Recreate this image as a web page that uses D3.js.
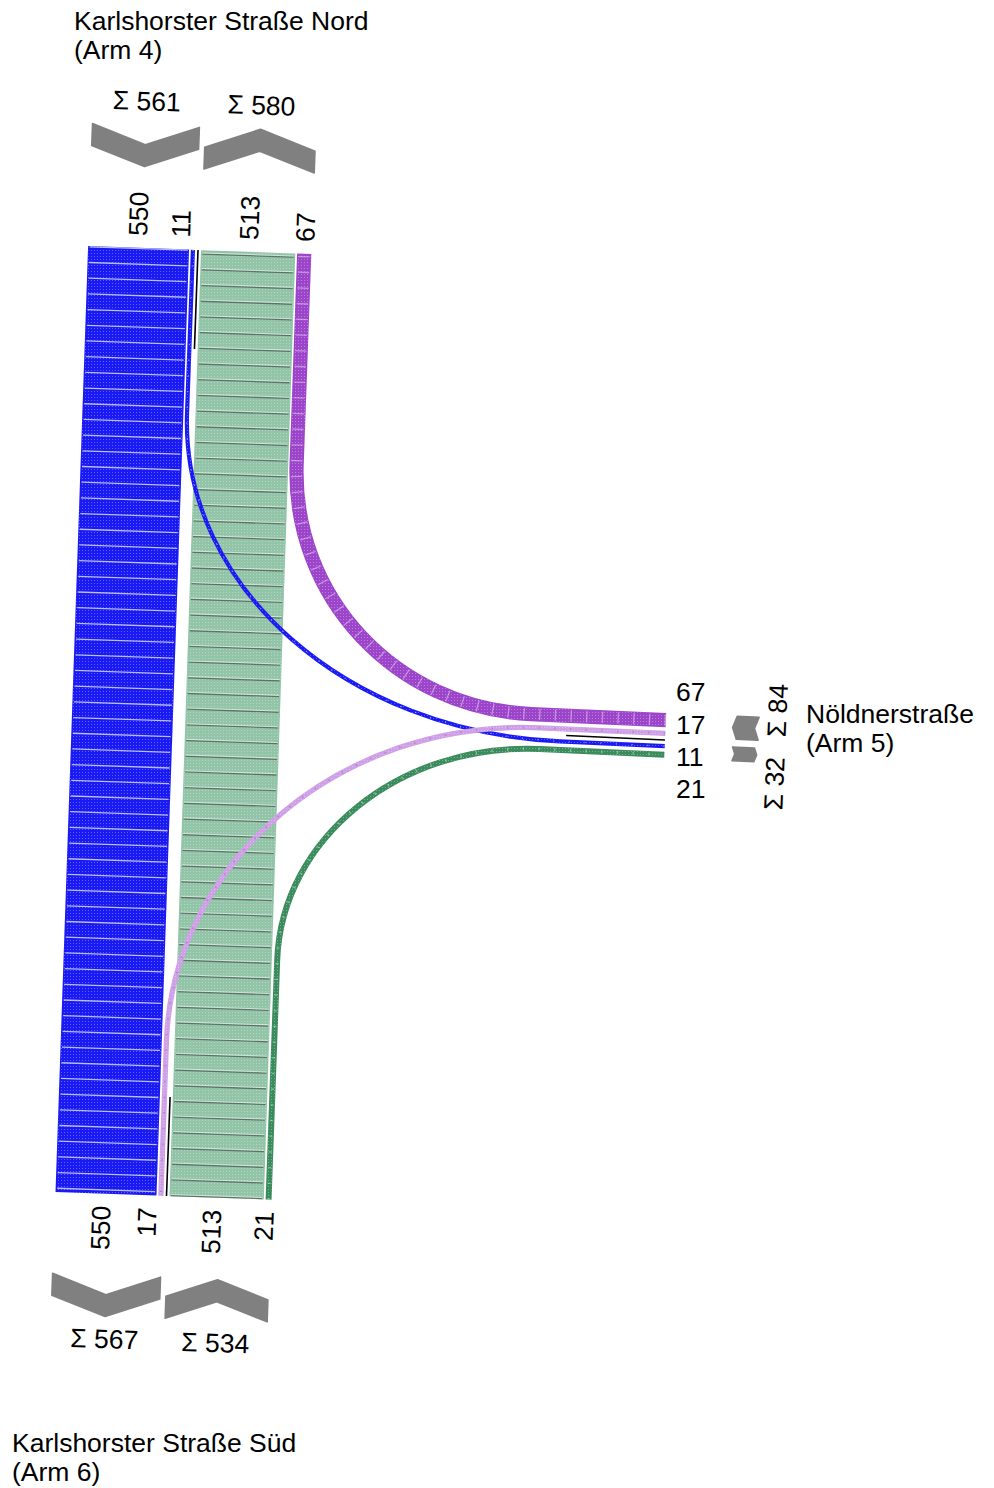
<!DOCTYPE html>
<html>
<head>
<meta charset="utf-8">
<script src="https://cdn.jsdelivr.net/npm/d3@7"></script>
<style>
  body { margin: 0; background: #fff; }
  svg { display: block; }
  text { font-family: "Liberation Sans", Arial, sans-serif; font-size: 26.5px; fill: #000; }
</style>
</head>
<body>
<svg id="chart" width="994" height="1488"></svg>
<script>
// Turning movements at the junction (vehicles), one entry per stream
const flowIds    = ["N-S", "N-E", "S-N", "S-E", "E-N", "E-S"];
const flowFrom   = ["Nord", "Nord", "Süd", "Süd", "Ost", "Ost"];
const flowTo     = ["Süd", "Ost", "Nord", "Ost", "Nord", "Süd"];
const flowValues = [550, 11, 513, 21, 67, 17];

// Junction arms
const armKeys    = ["Nord", "Ost", "Süd"];
const armNames   = ["Karlshorster Straße Nord", "Nöldnerstraße", "Karlshorster Straße Süd"];
const armNumbers = ["(Arm 4)", "(Arm 5)", "(Arm 6)"];

const flows = flowIds.map((id, i) => ({ id, from: flowFrom[i], to: flowTo[i], value: flowValues[i] }));
const byId = new Map(flows.map(f => [f.id, f]));

// ---- styling -------------------------------------------------------------
const flowStyle = {
  "N-S": { fill: "#1a1af4", rung: "rgba(225,225,235,0.8)" },
  "N-E": { fill: "#1a1af4", rung: "rgba(225,225,235,0.6)" },
  "S-N": { fill: "#92c4a8", rung: "rgba(70,80,75,0.7)", rung2: "rgba(255,255,255,0.55)" },
  "S-E": { fill: "#3b8c5d", rung: "rgba(215,228,220,0.5)" },
  "E-N": { fill: "#9c45cb", rung: "rgba(225,210,235,0.55)" },
  "E-S": { fill: "#cf9fe7", rung: "rgba(120,110,128,0.4)" }
};
const chevronColor = "#808080";

// ---- geometry helpers ----------------------------------------------------
const unit = v => { const l = Math.hypot(v[0], v[1]); return [v[0] / l, v[1] / l]; };
const add = (a, b) => [a[0] + b[0], a[1] + b[1]];
const mul = (v, s) => [v[0] * s, v[1] * s];
const sub = (a, b) => [a[0] - b[0], a[1] - b[1]];
const dot = (a, b) => a[0] * b[0] + a[1] * b[1];
const deg = v => Math.atan2(v[1], v[0]) * 180 / Math.PI;

// band width per vehicle count
const width = d3.scaleLinear().domain([0, 550]).range([2.2, 101]);

// Arm layout: separator point at the lane ends, inward direction, lane axis
const tNS = 0.036, tE = 0.045;
const arms = {
  "Nord": { sep: [198, 250], inward: unit([-tNS, 1]), cross: unit([1, tNS]), half: 3, gap: 1.8,
            groups: [{ side: -1, dir: "out", lanes: ["N-E", "N-S"] }, { side: 1, dir: "in", lanes: ["S-N", "E-N"] }],
            chevDist: 102, sumDist: 45, numDist: 12 },
  "Süd":  { sep: [166.5, 1196], inward: unit([tNS, -1]), cross: unit([1, tNS]), half: 3, gap: 1.8,
            groups: [{ side: -1, dir: "in", lanes: ["E-S", "N-S"] }, { side: 1, dir: "out", lanes: ["S-N", "S-E"] }],
            chevDist: 102, sumDist: 43, numDist: 12 },
  "Ost":  { sep: [665, 740], inward: unit([-1, -tE]), cross: unit([-tE, 1]), half: 4, gap: 3.5,
            groups: [{ side: -1, dir: "out", lanes: ["E-S", "E-N"] }, { side: 1, dir: "in", lanes: ["N-E", "S-E"] }],
            chevDist: 80 }
};

// lane centre positions at each arm end
const lanes = {};
armKeys.forEach(k => {
  const a = arms[k];
  lanes[k] = {};
  a.groups.forEach(g => {
    let off = a.half;
    g.start = off;
    g.lanes.forEach(id => {
      const w = width(byId.get(id).value);
      const c = off + w / 2;
      lanes[k][id] = { p: add(a.sep, mul(a.cross, g.side * c)), w };
      off += w + a.gap;
    });
    g.end = off - a.gap;
    g.total = d3.sum(g.lanes, id => byId.get(id).value);
  });
});

// straight run before each turning curve (from the arm end)
const legs = {
  "N-E": { "Nord": 163, "Ost": 105 },
  "E-N": { "Nord": 210, "Ost": 135 },
  "E-S": { "Ost": 125, "Süd": 155 },
  "S-E": { "Süd": 240, "Ost": 125 }
};
const kappa = 0.5523;

function flowPath(f) {
  const A = arms[f.from], B = arms[f.to];
  const pA = lanes[f.from][f.id].p, pB = lanes[f.to][f.id].p;
  const p = d3.path();
  p.moveTo(pA[0], pA[1]);
  if (!legs[f.id]) {
    p.lineTo(pB[0], pB[1]);
    return p.toString();
  }
  const kA = add(pA, mul(A.inward, legs[f.id][f.from]));
  const kB = add(pB, mul(B.inward, legs[f.id][f.to]));
  const d = sub(kB, kA);
  const rA = Math.abs(dot(d, A.inward)), rB = Math.abs(dot(d, B.inward));
  const c1 = add(kA, mul(A.inward, kappa * rA));
  const c2 = add(kB, mul(B.inward, kappa * rB));
  p.lineTo(kA[0], kA[1]);
  p.bezierCurveTo(c1[0], c1[1], c2[0], c2[1], kB[0], kB[1]);
  p.lineTo(pB[0], pB[1]);
  return p.toString();
}

// ---- drawing -------------------------------------------------------------
const svg = d3.select("#chart");
const defs = svg.append("defs");
const grain = defs.append("pattern").attr("id", "grain")
  .attr("patternUnits", "userSpaceOnUse").attr("width", 3).attr("height", 3);
grain.append("rect").attr("x", 1).attr("y", 1).attr("width", 1).attr("height", 1)
  .attr("fill", "#fff").attr("fill-opacity", 0.3);

const drawOrder = ["S-N", "N-S", "E-N", "N-E", "S-E", "E-S"];
const bands = svg.append("g").attr("class", "bands");
drawOrder.forEach(id => {
  const f = byId.get(id);
  const w = width(f.value);
  const st = flowStyle[id];
  const d = flowPath(f);
  const g = bands.append("g");
  g.append("path").attr("d", d).attr("fill", "none")
    .attr("stroke", st.fill).attr("stroke-width", w);
  g.append("path").attr("d", d).attr("fill", "none")
    .attr("stroke", "url(#grain)").attr("stroke-width", Math.max(w - 1, 1));
  g.append("path").attr("d", d).attr("fill", "none")
    .attr("stroke", st.rung).attr("stroke-width", Math.max(w - 3, 1))
    .attr("stroke-dasharray", "1.3 14.4");
  if (st.rung2) {
    g.append("path").attr("d", d).attr("fill", "none")
      .attr("stroke", st.rung2).attr("stroke-width", Math.max(w - 3, 1))
      .attr("stroke-dasharray", "1 14.7").attr("stroke-dashoffset", -1.4);
  }
});

// separator lines between the two directions of each arm
const sepG = svg.append("g");
armKeys.forEach(k => {
  const a = arms[k];
  const e = add(a.sep, mul(a.inward, 99));
  sepG.append("line")
    .attr("x1", a.sep[0]).attr("y1", a.sep[1]).attr("x2", e[0]).attr("y2", e[1])
    .attr("stroke", "#000").attr("stroke-width", 1.6);
});

// direction chevrons with totals
const chevG = svg.append("g");
const thick = 22;
armKeys.forEach(k => {
  const a = arms[k];
  a.groups.forEach(g => {
    const w = g.end - g.start;
    const mid = g.side * (g.start + g.end) / 2;
    const c0 = sub(add(a.sep, mul(a.cross, mid)), mul(a.inward, a.chevDist));
    const P = g.dir === "out" ? a.inward : mul(a.inward, -1);
    const dep = 0.18 * w;
    const local = [
      [-w / 2, thick / 2 - dep / 2], [0, thick / 2 + dep / 2], [w / 2, thick / 2 - dep / 2],
      [w / 2, -thick / 2 - dep / 2], [0, -thick / 2 + dep / 2], [-w / 2, -thick / 2 - dep / 2]
    ];
    const pts = local.map(([u, v]) => add(add(c0, mul(a.cross, u)), mul(P, v)));
    chevG.append("polygon")
      .attr("points", pts.map(q => q.join(",")).join(" "))
      .attr("fill", chevronColor).attr("stroke", chevronColor)
      .attr("stroke-width", 1.5).attr("stroke-linejoin", "round");
    g.chevCenter = c0;
  });
});

const labels = svg.append("g");

// totals and volume labels on the north and south arms
const numNudge = { "Nord": { "N-S": -1.5, "N-E": -13 }, "Süd": { "N-S": -4.5, "E-S": -13.5, "S-N": -4.5, "S-E": -4 } };
["Nord", "Süd"].forEach(k => {
  const a = arms[k];
  const ang = deg(a.cross);
  a.groups.forEach(g => {
    const c = sub(g.chevCenter, mul(a.inward, a.sumDist));
    labels.append("text")
      .attr("transform", `translate(${c[0]},${c[1]}) rotate(${ang})`)
      .attr("text-anchor", "middle").attr("dy", "0.35em")
      .text("Σ " + g.total);
    g.lanes.forEach(id => {
      const base = sub(lanes[k][id].p, mul(a.inward, a.numDist));
      const q = add(base, mul(a.cross, (numNudge[k][id] || 0)));
      labels.append("text")
        .attr("transform", `translate(${q[0]},${q[1]}) rotate(${-90 + ang})`)
        .attr("text-anchor", k === "Nord" ? "start" : "end")
        .attr("dy", "0.36em")
        .text(byId.get(id).value);
    });
  });
});

// east arm: stacked volume labels and rotated totals
(() => {
  const a = arms["Ost"];
  const order = [...a.groups[0].lanes].reverse().concat(a.groups[1].lanes);
  const sepAtLabels = add(a.sep, mul(a.inward, -11));
  order.forEach((id, i) => {
    const y = sepAtLabels[1] + (i - (order.length - 1) / 2) * 32.3;
    labels.append("text")
      .attr("x", 676).attr("y", y).attr("dy", "0.35em")
      .text(byId.get(id).value);
  });
  const sumAt = add(a.sep, mul(a.inward, -111));
  const ang = -90 + (deg(a.cross) - 90);
  const up = add(sumAt, mul(a.cross, -8));
  const down = add(sumAt, mul(a.cross, 12));
  labels.append("text")
    .attr("transform", `translate(${up[0]},${up[1]}) rotate(${ang})`)
    .attr("text-anchor", "start").attr("dy", "0.35em")
    .text("Σ " + a.groups[0].total);
  labels.append("text")
    .attr("transform", `translate(${down[0]},${down[1]}) rotate(${ang})`)
    .attr("text-anchor", "end").attr("dy", "0.35em")
    .text("Σ " + a.groups[1].total);
})();

// arm names
const titlePos = { "Nord": [74, 30], "Ost": [806, 723], "Süd": [12, 1452] };
armKeys.forEach((k, i) => {
  const t = labels.append("text").attr("x", titlePos[k][0]).attr("y", titlePos[k][1]);
  t.append("tspan").attr("x", titlePos[k][0]).text(armNames[i]);
  t.append("tspan").attr("x", titlePos[k][0]).attr("dy", 29).text(armNumbers[i]);
});
</script>
</body>
</html>
